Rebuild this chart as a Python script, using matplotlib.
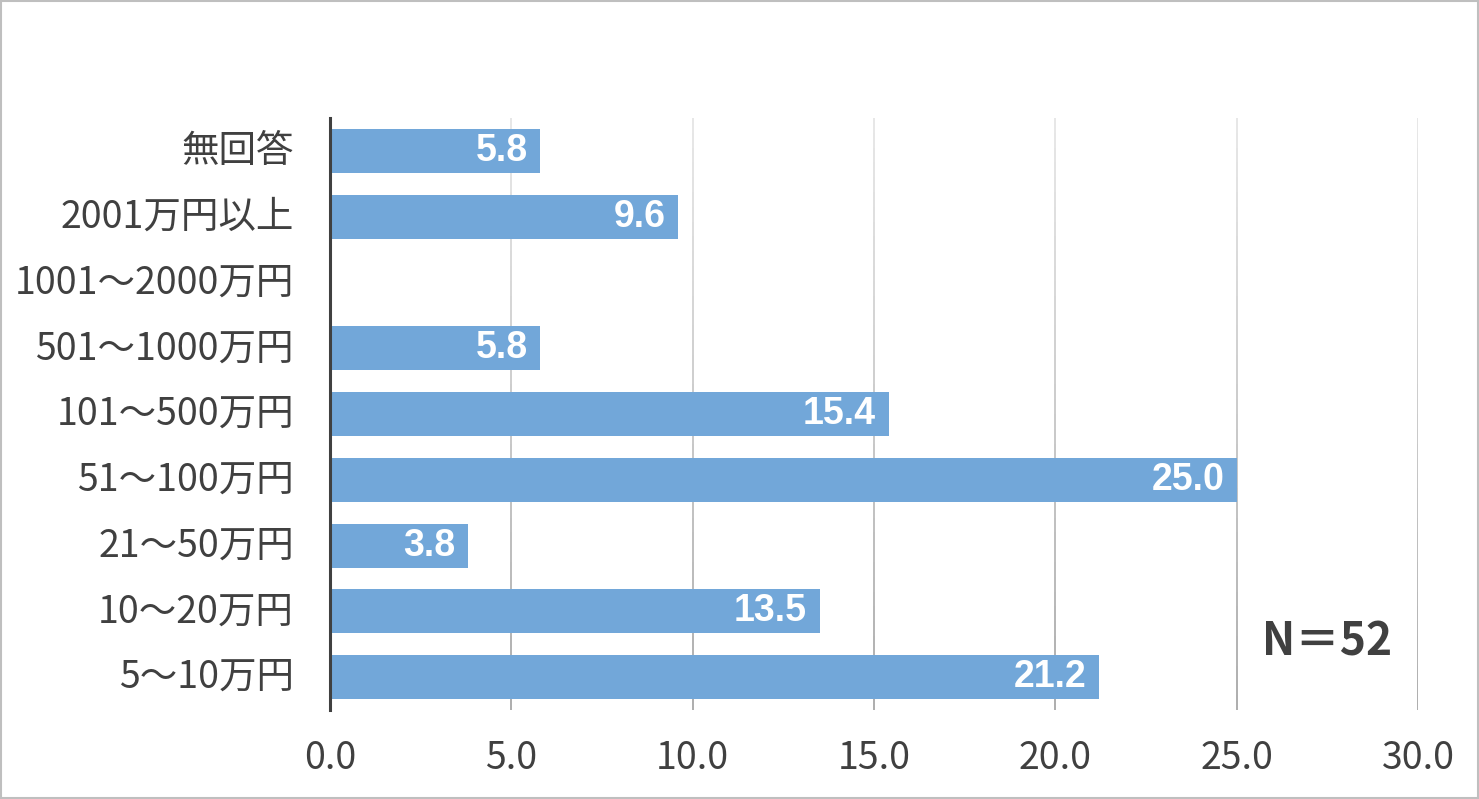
import matplotlib
matplotlib.use("Agg")
import matplotlib.pyplot as plt
import matplotlib.transforms as mtransforms
import numpy as np
from matplotlib.collections import LineCollection
from matplotlib.patches import Rectangle

categories = ["無回答", "2001万円以上", "1001～2000万円", "501～1000万円", "101～500万円",
              "51～100万円", "21～50万円", "10～20万円", "5～10万円"]
values = [5.8, 9.6, 0.0, 5.8, 15.4, 25.0, 3.8, 13.5, 21.2]
xticks = [0, 5, 10, 15, 20, 25, 30]
n_label = "N＝52"

plt.rcParams['font.family'] = ['Noto Sans CJK JP', 'DejaVu Sans']

fig = plt.figure(figsize=(14.79, 7.99), dpi=100)
ax = fig.add_axes([330/1479, 1-710/799, (1418-330)/1479, (710-118)/799])

y = np.arange(len(categories))
bar_color = "#72a7d9"
ax.barh(y, values, height=0.67, color=bar_color, zorder=2)
ax.set_ylim(len(categories)-0.5, -0.5)
ax.set_xlim(0, 30)

# gradient gridlines
nseg = 40
for xt in xticks[1:]:
    ys = np.linspace(0, 1, nseg+1)
    segs = [[(xt, ys[i]), (xt, ys[i+1])] for i in range(nseg)]
    cols = [plt.cm.gray(0.9 - 0.25*(1-(ys[i]+ys[i+1])/2)) for i in range(nseg)]
    lc = LineCollection(segs, colors=cols, linewidths=1.3,
                        transform=ax.get_xaxis_transform(), zorder=1)
    ax.add_collection(lc)

for s in ['top', 'right', 'bottom']:
    ax.spines[s].set_visible(False)
ax.spines['left'].set_color('#404040')
ax.spines['left'].set_linewidth(2.2)
ax.spines['left'].set_zorder(3)

ax.set_yticks(y)
ax.set_yticklabels(categories, fontsize=27, color='#404040')
ax.set_xticks(xticks)
ax.set_xticklabels([f"{v:.1f}" for v in xticks], fontsize=27, color='#404040')
ax.tick_params(axis='both', length=0)
ax.tick_params(axis='y', pad=26)
ax.tick_params(axis='x', pad=21)

shift = mtransforms.ScaledTranslation(0, 4/100, fig.dpi_scale_trans)
for lbl in ax.get_yticklabels():
    lbl.set_transform(lbl.get_transform() + shift)

for yi, v in zip(y, values):
    if v > 0:
        ax.annotate(f"{v:.1f}", xy=(v, yi), xytext=(-9, 0), textcoords='offset points',
                    ha='right', va='center', fontsize=27, fontweight='bold',
                    color='white', family=['Liberation Sans', 'DejaVu Sans'], zorder=4)

fig.text(1327/1479, 1-643/799, n_label, ha='center', va='center', fontsize=32,
         fontweight='bold', color='#404040')

fig.patches.append(Rectangle((0.0007, 0.001), 0.9986, 0.998, transform=fig.transFigure,
                             fill=False, edgecolor='#bfbfbf', linewidth=1.5))

fig.savefig("out.png", dpi=100)
